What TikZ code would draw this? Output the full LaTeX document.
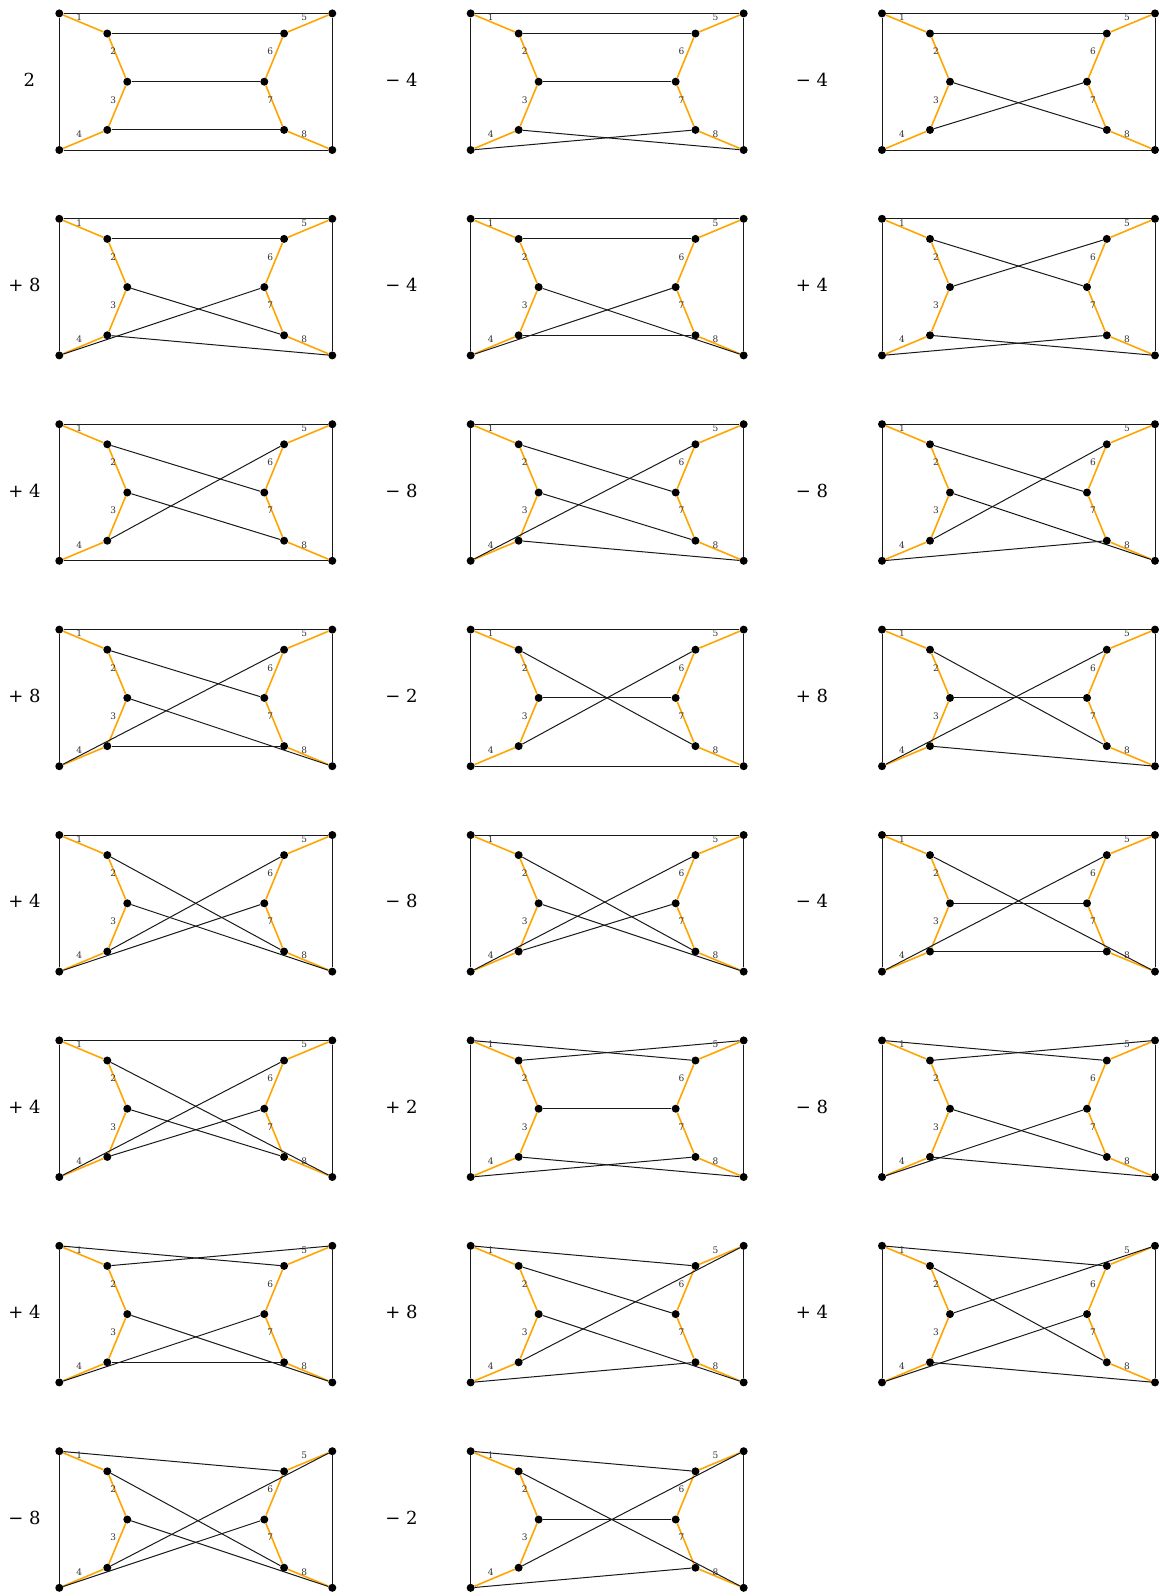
\documentclass[tikz,border=0pt]{standalone}
\usepackage{fontspec}
\setmainfont{DejaVu Serif}
\usetikzlibrary{calc}
\definecolor{edgeor}{RGB}{255,165,0}
\begin{document}
\begin{tikzpicture}[x=1pt,y=-1pt,
  vdot/.style={circle,fill=black,inner sep=0pt,minimum size=8pt},
  orangeedge/.style={draw=edgeor,line width=1.6pt},
  blackedge/.style={draw=black!90,line width=1pt},
  elabel/.style={font=\fontsize{9}{10}\selectfont,text=black!80,inner sep=0pt},
  coeftext/.style={font=\fontsize{18}{20}\selectfont,inner sep=0pt}]
\useasboundingbox (0,0) rectangle (1161,1596);
\foreach \n/\c/\r/\tx/\pa/\pb/\pc/\pd/\pe/\coef in {
 1/0/0/29.3/0/1/2/3/4/2,
 2/1/0/401.4/0/1/2/4/3/− 4,
 3/2/0/812/0/1/3/2/4/− 4,
 4/0/1/24.4/0/1/3/4/2/+ 8,
 5/1/1/401.4/0/1/4/3/2/− 4,
 6/2/1/812/0/2/1/4/3/+ 4,
 7/0/2/24.4/0/2/3/1/4/+ 4,
 8/1/2/401.4/0/2/3/4/1/− 8,
 9/2/2/812/0/2/4/1/3/− 8,
 10/0/3/24.4/0/2/4/3/1/+ 8,
 11/1/3/401.4/0/3/2/1/4/− 2,
 12/2/3/812/0/3/2/4/1/+ 8,
 13/0/4/24.4/0/3/4/1/2/+ 4,
 14/1/4/401.4/0/3/4/2/1/− 8,
 15/2/4/812/0/4/2/3/1/− 4,
 16/0/5/24.4/0/4/3/2/1/+ 4,
 17/1/5/401.4/1/0/2/4/3/+ 2,
 18/2/5/812/1/0/3/4/2/− 8,
 19/0/6/24.4/1/0/4/3/2/+ 4,
 20/1/6/401.4/1/2/4/0/3/+ 8,
 21/2/6/812/1/3/0/4/2/+ 4,
 22/0/7/24.4/1/3/4/0/2/− 8,
 23/1/7/401.4/1/4/2/0/3/− 2}
{
  \pgfmathsetmacro\cx{195.8+411.35*\c}
  \pgfmathsetmacro\cy{81.7+205.4*\r}
  \begin{scope}[shift={(\cx,\cy)}]
    \node[vdot] (g\n-L0) at (-136.5,-68.3) {};
    \node[vdot] (g\n-L1) at (-88.5,-48.2) {};
    \node[vdot] (g\n-L2) at (-68.5,0) {};
    \node[vdot] (g\n-L3) at (-88.5,48.2) {};
    \node[vdot] (g\n-L4) at (-136.5,68.3) {};
    \node[vdot] (g\n-R0) at (136.5,-68.3) {};
    \node[vdot] (g\n-R1) at (88.3,-48.2) {};
    \node[vdot] (g\n-R2) at (68.5,0) {};
    \node[vdot] (g\n-R3) at (88.3,48.2) {};
    \node[vdot] (g\n-R4) at (136.5,68.3) {};
  \end{scope}
  \draw[orangeedge] (g\n-L0) -- (g\n-L1);
  \draw[orangeedge] (g\n-L1) -- (g\n-L2);
  \draw[orangeedge] (g\n-L2) -- (g\n-L3);
  \draw[orangeedge] (g\n-L3) -- (g\n-L4);
  \draw[orangeedge] (g\n-R0) -- (g\n-R1);
  \draw[orangeedge] (g\n-R1) -- (g\n-R2);
  \draw[orangeedge] (g\n-R2) -- (g\n-R3);
  \draw[orangeedge] (g\n-R3) -- (g\n-R4);
  \draw[blackedge] (g\n-L0) -- (g\n-L4);
  \draw[blackedge] (g\n-R0) -- (g\n-R4);
  \draw[blackedge] (g\n-L0) -- (g\n-R\pa);
  \draw[blackedge] (g\n-L1) -- (g\n-R\pb);
  \draw[blackedge] (g\n-L2) -- (g\n-R\pc);
  \draw[blackedge] (g\n-L3) -- (g\n-R\pd);
  \draw[blackedge] (g\n-L4) -- (g\n-R\pe);
  \path (g\n-L0) -- node[elabel,xshift=-4pt,yshift=6pt] (g\n-e1) {1} (g\n-L1);
  \path (g\n-L1) -- node[elabel,xshift=-4pt,yshift=6pt] (g\n-e2) {2} (g\n-L2);
  \path (g\n-L2) -- node[elabel,xshift=-4pt,yshift=6pt] (g\n-e3) {3} (g\n-L3);
  \path (g\n-L3) -- node[elabel,xshift=-4pt,yshift=6pt] (g\n-e4) {4} (g\n-L4);
  \path (g\n-R0) -- node[elabel,xshift=-4pt,yshift=6pt] (g\n-e5) {5} (g\n-R1);
  \path (g\n-R1) -- node[elabel,xshift=-4pt,yshift=6pt] (g\n-e6) {6} (g\n-R2);
  \path (g\n-R2) -- node[elabel,xshift=-4pt,yshift=6pt] (g\n-e7) {7} (g\n-R3);
  \path (g\n-R3) -- node[elabel,xshift=-4pt,yshift=6pt] (g\n-e8) {8} (g\n-R4);
  \node[coeftext] (c\n) at (\tx,\cy-2) {\coef};
}
\end{tikzpicture}
\end{document}
